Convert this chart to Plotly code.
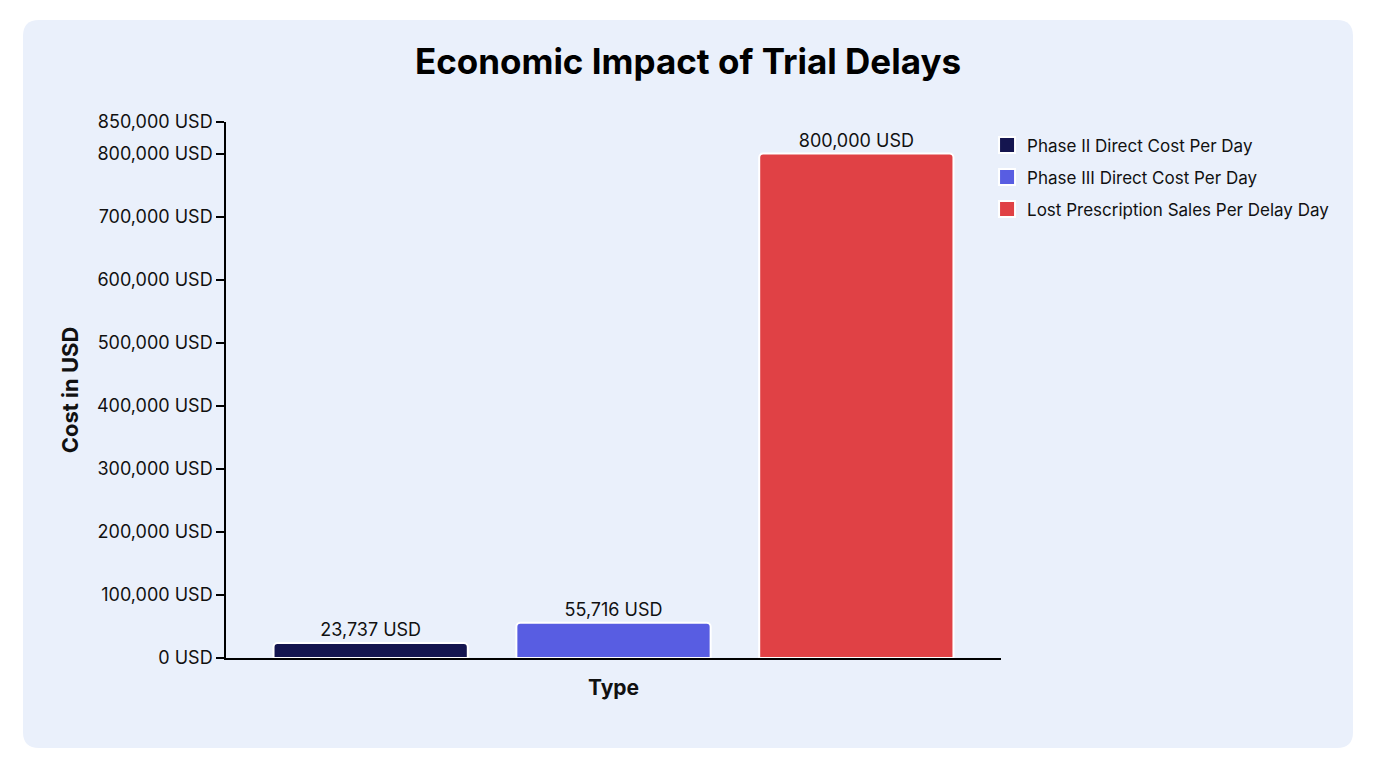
import plotly.graph_objects as go

categories = ["Type"]
series_names = ["Phase II Direct Cost Per Day", "Phase III Direct Cost Per Day", "Lost Prescription Sales Per Delay Day"]
series_values = [23737, 55716, 800000]
series_colors = ["#14154F", "#585DE2", "#E04145"]
tick_values = [0, 100000, 200000, 300000, 400000, 500000, 600000, 700000, 800000, 850000]
tick_labels = [f"{v:,} USD" for v in tick_values]

W, H = 1376, 768
ML, MR, MT, MB = 226, 375, 122, 110
PW, PH = W - ML - MR, H - MT - MB

fig = go.Figure()
for i, (name, val, col) in enumerate(zip(series_names, series_values, series_colors)):
    fig.add_trace(go.Bar(
        x=categories, y=[val], name=name, showlegend=False, legendgroup=f"g{i}",
        marker=dict(color=col, line=dict(color="white", width=2), cornerradius=4),
        text=[f"{val:,} USD"], textposition="outside",
        textfont=dict(size=18, color="#111111"),
        cliponaxis=False,
    ))
# legend entries with larger square swatches
for i, (name, col) in enumerate(zip(series_names, series_colors)):
    fig.add_trace(go.Scatter(
        x=[None], y=[None], mode="markers", name=name, legendgroup=f"g{i}",
        marker=dict(symbol="square", size=16, color=col, line=dict(color="white", width=2)),
    ))

# rounded card background
def px2x(p):
    return (p - ML) / PW
def px2y(p):
    return (H - MB - p) / PH
x0, x1, y0, y1 = px2x(23), px2x(1353), px2y(748), px2y(20)
rx, ry = 16 / PW, 16 / PH
path = (f"M {x0+rx},{y0} L {x1-rx},{y0} Q {x1},{y0} {x1},{y0+ry} "
        f"L {x1},{y1-ry} Q {x1},{y1} {x1-rx},{y1} L {x0+rx},{y1} "
        f"Q {x0},{y1} {x0},{y1-ry} L {x0},{y0+ry} Q {x0},{y0} {x0+rx},{y0} Z")
fig.add_shape(type="path", path=path, xref="paper", yref="paper",
              fillcolor="#EAF0FB", line=dict(width=0), layer="below")

fig.update_layout(
    width=W, height=H,
    margin=dict(l=ML, r=MR, t=MT, b=MB),
    paper_bgcolor="white", plot_bgcolor="rgba(0,0,0,0)",
    font=dict(family="Inter, Roboto, sans-serif", color="#111111", size=17),
    title=dict(text="<b>Economic Impact of Trial Delays</b>", x=0.5, xanchor="center",
               y=1 - 62 / H, yanchor="middle", font=dict(size=35, color="#000000")),
    barmode="group", bargap=0.06, bargroupgap=0.2,
    showlegend=True,
    legend=dict(x=0.982, y=0.99, xanchor="left", yanchor="top",
                bgcolor="rgba(0,0,0,0)", font=dict(size=17, color="#111111"),
                tracegroupgap=7, traceorder="grouped"),
    xaxis=dict(showticklabels=False, ticks="", showline=True, linecolor="black", linewidth=1.5,
               title=dict(text="<b>Type</b>", font=dict(size=21, color="#111111"), standoff=22),
               showgrid=False, zeroline=False),
    yaxis=dict(range=[0, 850000], tickvals=tick_values, ticktext=tick_labels,
               ticks="outside", ticklen=8, tickwidth=1.5, tickcolor="black",
               showline=True, linecolor="black", linewidth=1.5,
               showgrid=False, zeroline=False,
               tickfont=dict(size=18, color="#111111"),
               title=dict(text="<b>Cost in USD</b>", font=dict(size=22, color="#111111"), standoff=12)),
)

fig.write_html("out.html")
